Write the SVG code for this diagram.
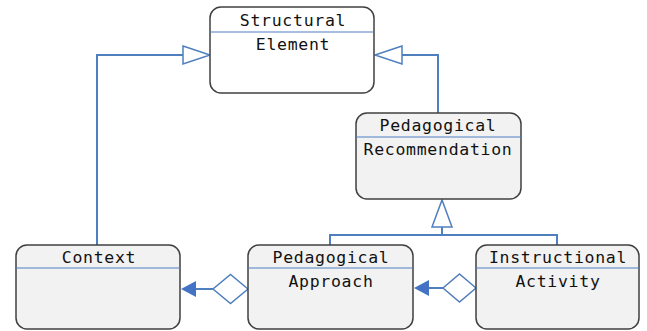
<svg xmlns="http://www.w3.org/2000/svg" width="647" height="331" viewBox="0 0 647 331">
<style>
.box{fill:#f2f2f2;stroke:#404040;stroke-width:1.5}
.sep{stroke:#4f7fbf;stroke-width:1.2}
.t{font-family:"DejaVu Sans Mono",monospace;font-size:16.5px;letter-spacing:0.7px;fill:#111;text-anchor:middle}
.c{fill:none;stroke:#4f7fbf;stroke-width:2}
.hollow{fill:#fff;stroke:#4f7fbf;stroke-width:1.5}
.filled{fill:#4472c4;stroke:none}
</style>
<rect width="647" height="331" fill="#fff"/>
<g id="connectors">
<polyline class="c" points="97,245 97,55 183,55"/>
<polygon class="hollow" points="183,46 210,55 183,64"/>
<polyline class="c" points="438,113 438,55 402,55"/>
<polygon class="hollow" points="402,46 375,55 402,64"/>
<polyline class="c" points="330,245 330,235 557,235 557,245"/>
<line class="c" x1="442" y1="235" x2="442" y2="227"/>
<polygon class="hollow" points="432,227 442,200 452,227"/>
<line class="c" x1="195" y1="289" x2="213" y2="289"/>
<polygon class="filled" points="181,289 196,281 196,297"/>
<polygon class="hollow" points="248,289 230.5,274.5 213,289 230.5,303.5"/>
<line class="c" x1="428" y1="288" x2="443" y2="288"/>
<polygon class="filled" points="414,288 429,280 429,296"/>
<polygon class="hollow" points="476,288 459.5,274 443,288 459.5,302"/>
</g>
<g id="structural-element">
<rect class="box" style="fill:#fff" x="210" y="7" width="164" height="86" rx="11"/>
<line class="sep" x1="210" y1="32" x2="374" y2="32"/>
<text class="t" x="293" y="26">Structural</text>
<text class="t" x="293" y="50">Element</text>
</g>
<g id="pedagogical-recommendation">
<rect class="box" x="356" y="113" width="165" height="86" rx="11"/>
<line class="sep" x1="356" y1="137" x2="521" y2="137"/>
<text class="t" x="438" y="131">Pedagogical</text>
<text class="t" x="438" y="155">Recommendation</text>
</g>
<g id="context">
<rect class="box" x="16" y="245" width="164" height="84" rx="11"/>
<line class="sep" x1="16" y1="268" x2="180" y2="268"/>
<text class="t" x="99" y="263">Context</text>
</g>
<g id="pedagogical-approach">
<rect class="box" x="248" y="245" width="165" height="84" rx="11"/>
<line class="sep" x1="248" y1="268" x2="413" y2="268"/>
<text class="t" x="331" y="263">Pedagogical</text>
<text class="t" x="331" y="287">Approach</text>
</g>
<g id="instructional-activity">
<rect class="box" x="476" y="245" width="163" height="84" rx="11"/>
<line class="sep" x1="476" y1="268" x2="639" y2="268"/>
<text class="t" x="558" y="263">Instructional</text>
<text class="t" x="558" y="287">Activity</text>
</g>
</svg>
